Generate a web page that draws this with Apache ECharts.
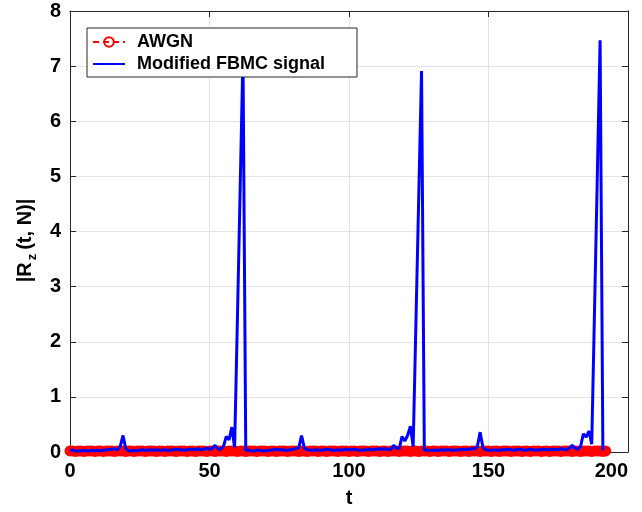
<!DOCTYPE html>
<html>
    <head>
        <meta charset="UTF-8">
        <title></title>
        <script src="https://cdn.jsdelivr.net/npm/echarts@6/dist/echarts.min.js"></script>
        <style>
            body { margin: 0; background: #fff; }
        </style>
    </head>
    <body>
        <div id="main" style="width: 642px; height: 512px;"></div>
        <script>
            // |R_z(t,N)| for t = 0..191
            var fbmc = [
                0.03, 0.03, 0.02, 0.02, 0.02, 0.03, 0.02, 0.02, 0.03, 0.02,
                0.03, 0.02, 0.03, 0.04, 0.04, 0.05, 0.06, 0.04, 0.10, 0.30,
                0.06, 0.02, 0.02, 0.03, 0.02, 0.03, 0.04, 0.03, 0.03, 0.04,
                0.03, 0.04, 0.03, 0.03, 0.04, 0.03, 0.03, 0.04, 0.05, 0.04,
                0.04, 0.03, 0.04, 0.05, 0.05, 0.04, 0.06, 0.04, 0.05, 0.07,
                0.05, 0.07, 0.12, 0.06, 0.05, 0.10, 0.28, 0.22, 0.45, 0.08,
                2.40, 4.80, 7.20, 0.03, 0.03, 0.02, 0.02, 0.03, 0.03, 0.02,
                0.02, 0.03, 0.03, 0.04, 0.05, 0.04, 0.04, 0.03, 0.03, 0.04,
                0.05, 0.06, 0.08, 0.30, 0.07, 0.04, 0.03, 0.03, 0.04, 0.03,
                0.03, 0.04, 0.05, 0.04, 0.03, 0.03, 0.04, 0.03, 0.04, 0.05,
                0.04, 0.04, 0.05, 0.04, 0.03, 0.03, 0.04, 0.05, 0.04, 0.04,
                0.05, 0.06, 0.05, 0.06, 0.05, 0.04, 0.12, 0.07, 0.06, 0.28,
                0.20, 0.30, 0.47, 0.10, 2.37, 4.64, 6.91, 0.03, 0.03, 0.03,
                0.03, 0.03, 0.03, 0.04, 0.03, 0.04, 0.04, 0.03, 0.03, 0.04,
                0.04, 0.05, 0.04, 0.05, 0.06, 0.06, 0.10, 0.36, 0.08, 0.04,
                0.03, 0.03, 0.04, 0.03, 0.03, 0.04, 0.04, 0.05, 0.04, 0.03,
                0.04, 0.05, 0.04, 0.03, 0.04, 0.05, 0.04, 0.03, 0.04, 0.04,
                0.05, 0.04, 0.04, 0.05, 0.04, 0.05, 0.06, 0.05, 0.04, 0.07,
                0.12, 0.07, 0.05, 0.10, 0.33, 0.27, 0.38, 0.14, 2.56, 5.00,
                7.47, 0.03
            ];
            // AWGN for t = 0..192
            var awgn = [
                0.02, 0.02, 0.01, 0.02, 0.02, 0.01, 0.02, 0.02, 0.02, 0.01,
                0.02, 0.02, 0.01, 0.02, 0.02, 0.02, 0.01, 0.02, 0.02, 0.02,
                0.01, 0.02, 0.02, 0.01, 0.02, 0.02, 0.02, 0.01, 0.02, 0.02,
                0.02, 0.01, 0.02, 0.02, 0.01, 0.02, 0.02, 0.02, 0.01, 0.02,
                0.02, 0.02, 0.01, 0.02, 0.02, 0.01, 0.02, 0.02, 0.02, 0.01,
                0.02, 0.02, 0.01, 0.02, 0.02, 0.02, 0.01, 0.02, 0.02, 0.02,
                0.01, 0.02, 0.02, 0.01, 0.02, 0.02, 0.02, 0.01, 0.02, 0.02,
                0.02, 0.01, 0.02, 0.02, 0.01, 0.02, 0.02, 0.02, 0.01, 0.02,
                0.02, 0.02, 0.01, 0.02, 0.02, 0.01, 0.02, 0.02, 0.02, 0.01,
                0.02, 0.02, 0.01, 0.02, 0.02, 0.02, 0.01, 0.02, 0.02, 0.02,
                0.01, 0.02, 0.02, 0.01, 0.02, 0.02, 0.02, 0.01, 0.02, 0.02,
                0.02, 0.01, 0.02, 0.02, 0.01, 0.02, 0.02, 0.02, 0.01, 0.02,
                0.02, 0.02, 0.01, 0.02, 0.02, 0.01, 0.02, 0.02, 0.02, 0.01,
                0.02, 0.02, 0.01, 0.02, 0.02, 0.02, 0.01, 0.02, 0.02, 0.02,
                0.01, 0.02, 0.02, 0.01, 0.02, 0.02, 0.02, 0.01, 0.02, 0.02,
                0.02, 0.01, 0.02, 0.02, 0.01, 0.02, 0.02, 0.02, 0.01, 0.02,
                0.02, 0.02, 0.01, 0.02, 0.02, 0.01, 0.02, 0.02, 0.02, 0.01,
                0.02, 0.02, 0.01, 0.02, 0.02, 0.02, 0.01, 0.02, 0.02, 0.02,
                0.01, 0.02, 0.02, 0.01, 0.02, 0.02, 0.02, 0.01, 0.02, 0.02,
                0.02, 0.01, 0.02
            ];
            var seriesNames = ['AWGN', 'Modified FBMC signal'];

            function pairs(arr) {
                var out = [];
                for (var i = 0; i < arr.length; i++) out.push([i, arr[i]]);
                return out;
            }

            var font = "'Liberation Sans', Arial, Helvetica, sans-serif";
            var axisColor = '#262626';
            var gridColor = '#e3e3e3';

            var chart = echarts.init(document.getElementById('main'));
            chart.setOption({
                animation: false,
                backgroundColor: '#fff',
                textStyle: { fontFamily: font },
                grid: { left: 70, right: 14, top: 11, bottom: 60, outerBoundsMode: 'none', containLabel: false },
                legend: {
                    orient: 'vertical',
                    left: 87,
                    top: 28,
                    padding: [5, 32, 4, 5],
                    itemGap: 4,
                    itemWidth: 32,
                    itemHeight: 12,
                    backgroundColor: '#fff',
                    borderColor: axisColor,
                    borderWidth: 1,
                    borderRadius: 0,
                    data: [
                        { name: seriesNames[0] },
                        { name: seriesNames[1], itemStyle: { opacity: 0 } }
                    ],
                    textStyle: {
                        fontFamily: font, fontSize: 18, fontWeight: 'bold',
                        color: '#000', lineHeight: 18, padding: [0, 0, 0, 7]
                    }
                },
                xAxis: [{
                    type: 'value',
                    min: 0, max: 200, interval: 50,
                    name: 't',
                    nameLocation: 'middle',
                    nameGap: 36,
                    nameTextStyle: { fontSize: 20, fontWeight: 'bold', color: '#000' },
                    axisLine: { lineStyle: { color: axisColor, width: 1 } },
                    axisTick: { inside: true, length: 6, lineStyle: { color: axisColor } },
                    axisLabel: { fontSize: 20, fontWeight: 'bold', color: '#000', margin: 9, alignMaxLabel: 'right' },
                    splitLine: { show: true, lineStyle: { color: gridColor, width: 1 } }
                }, {
                    type: 'value', position: 'top',
                    min: 0, max: 200, interval: 50,
                    axisLine: { show: true, onZero: false, lineStyle: { color: axisColor } },
                    axisTick: { show: true, inside: true, length: 6, lineStyle: { color: axisColor } },
                    axisLabel: { show: false },
                    splitLine: { show: false }
                }],
                yAxis: [{
                    type: 'value',
                    min: 0, max: 8, interval: 1,
                    name: '|R{sub|z}(t, N)|',
                    nameLocation: 'middle',
                    nameGap: 29,
                    nameTextStyle: {
                        fontSize: 20, fontWeight: 'bold', color: '#000',
                        padding: [0, 18, 0, 0],
                        rich: {
                            sub: { fontSize: 13, fontWeight: 'bold', color: '#000', padding: [14, 4, 0, 2] }
                        }
                    },
                    axisLine: { show: true, lineStyle: { color: axisColor, width: 1 } },
                    axisTick: { show: true, inside: true, length: 6, lineStyle: { color: axisColor } },
                    axisLabel: { fontSize: 20, fontWeight: 'bold', color: '#000', margin: 9 },
                    splitLine: { show: true, lineStyle: { color: gridColor, width: 1 } }
                }, {
                    type: 'value', position: 'right',
                    min: 0, max: 8, interval: 1,
                    axisLine: { show: true, onZero: false, lineStyle: { color: axisColor } },
                    axisTick: { show: true, inside: true, length: 6, lineStyle: { color: axisColor } },
                    axisLabel: { show: false },
                    splitLine: { show: false }
                }],
                series: [{
                    name: seriesNames[0],
                    type: 'line',
                    data: pairs(awgn),
                    symbol: 'circle',
                    symbolSize: 8,
                    itemStyle: { color: 'rgba(255,0,0,0)', borderColor: '#ff0000', borderWidth: 3 },
                    lineStyle: { color: '#ff0000', width: 2.5, type: [6, 4] },
                    z: 2
                }, {
                    name: seriesNames[1],
                    type: 'line',
                    data: pairs(fbmc),
                    showSymbol: false,
                    symbol: 'none',
                    itemStyle: { color: '#0000ff' },
                    lineStyle: { color: '#0000ff', width: 3 },
                    z: 3
                }]
            });
        </script>
    </body>
</html>
